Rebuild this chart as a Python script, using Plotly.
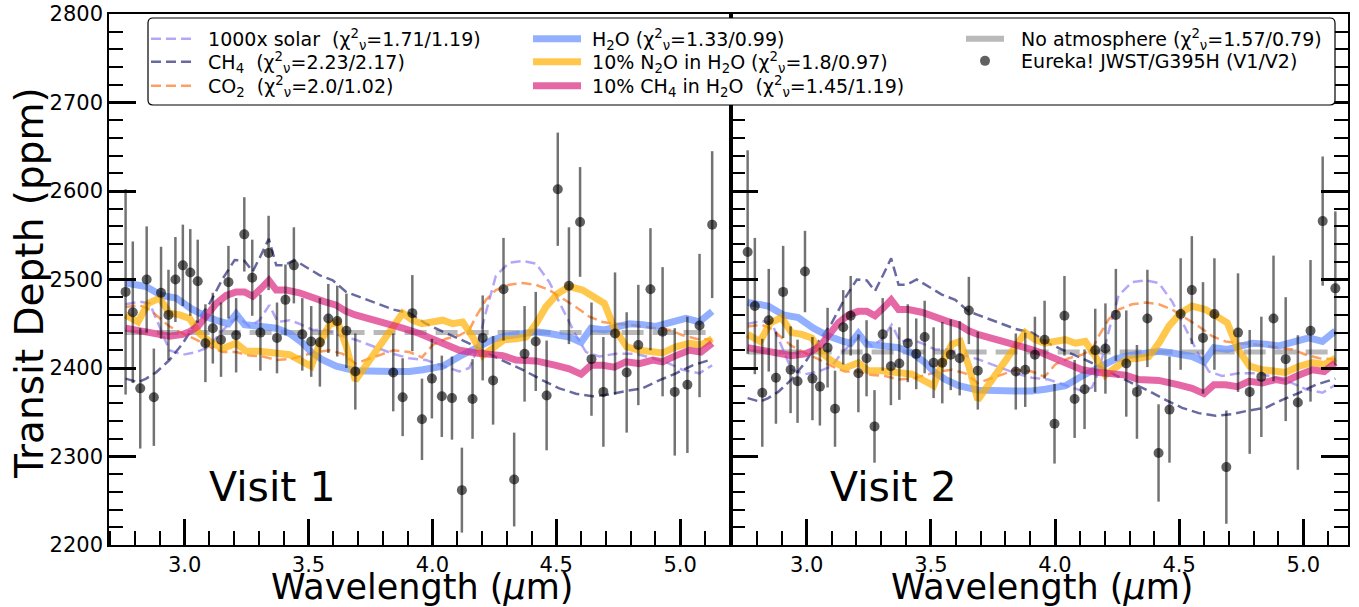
import plotly.graph_objects as go

W, H = 1359, 607
FONT = "DejaVu Sans"

# ---------------- data: binned NIRSpec G395H transit depths ----------------
WAVELENGTH = [2.762, 2.791, 2.821, 2.847, 2.876, 2.905, 2.935, 2.963, 2.993, 3.023,
              3.053, 3.084, 3.114, 3.147, 3.177, 3.208, 3.241, 3.273, 3.306, 3.339,
              3.373, 3.407, 3.441, 3.475, 3.511, 3.546, 3.580, 3.616, 3.653, 3.689,
              3.842, 3.880, 3.919, 3.958, 3.998, 4.038, 4.079, 4.119, 4.162, 4.203,
              4.245, 4.287, 4.330, 4.372, 4.417, 4.461, 4.506, 4.551, 4.596, 4.642,
              4.690, 4.737, 4.784, 4.831, 4.880, 4.929, 4.978, 5.029, 5.078, 5.129]

V1_DEPTH = [2486, 2463, 2377, 2500, 2367, 2485, 2460, 2500, 2516, 2508,
            2498, 2428, 2445, 2432, 2497, 2437, 2551, 2502, 2440, 2530,
            2434, 2477, 2516, 2438, 2430, 2429, 2456, 2453, 2442, 2396,
            2395, 2367, 2462, 2342, 2388, 2368, 2366, 2262, 2365, 2434,
            2386, 2489, 2274, 2416, 2430, 2369, 2602, 2493, 2565, 2410,
            2373, 2439, 2395, 2426, 2489, 2441, 2373, 2381, 2448, 2562]
V1_ERR = [116, 80, 68, 60, 55, 52, 51, 48, 46, 49,
          47, 44, 40, 42, 41, 42, 42, 43, 43, 42,
          40, 40, 43, 41, 40, 50, 39, 40, 42, 43,
          44, 44, 43, 46, 45, 46, 47, 48, 45, 48,
          50, 58, 53, 54, 56, 62, 64, 66, 62, 64,
          62, 69, 68, 68, 69, 73, 72, 77, 81, 83]

V2_DEPTH = [2531, 2470, 2372, 2454, 2389, 2486, 2398, 2385, 2509, 2388,
            2379, 2423, 2354, 2446, 2459, 2394, 2411, 2334, 2438, 2402,
            2405, 2428, 2416, 2435, 2406, 2406, 2415, 2411, 2465, 2397,
            2396, 2398, 2415, 2432, 2337, 2459, 2365, 2376, 2420, 2422,
            2460, 2405, 2373, 2456, 2304, 2353, 2461, 2488, 2434, 2461,
            2288, 2440, 2373, 2390, 2456, 2410, 2361, 2442, 2566, 2490]
V2_ERR = [115, 77, 61, 58, 52, 52, 49, 47, 46, 47,
          44, 45, 43, 42, 45, 44, 43, 41, 41, 44,
          41, 44, 40, 41, 40, 46, 40, 42, 38, 44,
          43, 42, 43, 44, 45, 45, 44, 45, 47, 51,
          52, 60, 53, 55, 55, 60, 63, 61, 63, 63,
          64, 67, 70, 68, 71, 70, 76, 80, 73, 87]

# flat (no atmosphere) fit level per visit; models are shifted with it
NO_ATM_LEVEL = [2440, 2418]

# ---------------- forward models (visit 1 fit) ----------------
WL_SOLAR = [2.762, 2.818, 2.859, 2.899, 2.939, 2.993, 3.047, 3.101, 3.141, 3.181,
            3.215, 3.262, 3.302, 3.342, 3.376, 3.424, 3.463, 3.517, 3.571, 3.625,
            3.689, 3.842, 3.907, 3.974, 4.042, 4.109, 4.149, 4.176, 4.216, 4.256,
            4.310, 4.364, 4.418, 4.472, 4.525, 4.579, 4.620, 4.673, 4.740, 4.821,
            4.889, 4.956, 5.010, 5.077, 5.129]
SOLAR = [2472, 2475, 2473, 2447, 2420, 2415, 2418, 2424, 2439, 2450,
         2458, 2447, 2454, 2471, 2452, 2454, 2450, 2443, 2443, 2437,
         2432, 2416, 2411, 2409, 2402, 2396, 2400, 2418, 2463, 2504,
         2519, 2521, 2518, 2497, 2467, 2437, 2418, 2413, 2416, 2416,
         2411, 2405, 2398, 2394, 2403]

WL_CH4 = [2.762, 2.812, 2.845, 2.885, 2.939, 2.993, 3.047, 3.101, 3.154, 3.202,
          3.242, 3.275, 3.309, 3.340, 3.370, 3.403, 3.443, 3.490, 3.544, 3.598,
          3.652, 3.689, 3.842, 3.907, 3.974, 4.042, 4.109, 4.176, 4.243, 4.310,
          4.378, 4.445, 4.512, 4.579, 4.646, 4.714, 4.781, 4.848, 4.915, 4.983,
          5.050, 5.129]
CH4 = [2388, 2384, 2388, 2395, 2409, 2428, 2452, 2473, 2501, 2522,
       2521, 2509, 2528, 2546, 2516, 2516, 2522, 2514, 2505, 2499,
       2486, 2482, 2466, 2462, 2450, 2441, 2433, 2424, 2414, 2405,
       2396, 2386, 2377, 2371, 2368, 2370, 2374, 2377, 2386, 2394,
       2403, 2410]

WL_CO2 = [2.762, 2.818, 2.859, 2.899, 2.939, 2.993, 3.047, 3.101, 3.154, 3.208,
          3.262, 3.316, 3.370, 3.424, 3.477, 3.531, 3.585, 3.638, 3.689, 3.842,
          3.907, 3.958, 4.001, 4.055, 4.109, 4.149, 4.176, 4.216, 4.256, 4.310,
          4.364, 4.418, 4.472, 4.525, 4.579, 4.633, 4.687, 4.740, 4.794, 4.848,
          4.902, 4.956, 5.010, 5.064, 5.129]
CO2 = [2469, 2471, 2466, 2456, 2447, 2439, 2432, 2424, 2418, 2418,
       2414, 2413, 2409, 2410, 2414, 2418, 2420, 2416, 2405, 2420,
       2418, 2412, 2426, 2433, 2437, 2443, 2458, 2477, 2488, 2494,
       2496, 2494, 2488, 2479, 2469, 2458, 2452, 2450, 2449, 2447,
       2445, 2443, 2437, 2433, 2432]

WL_H2O = [2.762, 2.845, 2.906, 2.966, 3.027, 3.087, 3.148, 3.177, 3.208, 3.242,
          3.309, 3.370, 3.424, 3.477, 3.511, 3.558, 3.612, 3.665, 3.689, 3.842,
          3.907, 3.961, 4.042, 4.109, 4.176, 4.243, 4.297, 4.418, 4.472, 4.552,
          4.600, 4.640, 4.694, 4.741, 4.795, 4.848, 4.902, 4.969, 5.023, 5.077,
          5.129]
H2O = [2496, 2492, 2482, 2479, 2467, 2458, 2452, 2450, 2461, 2449,
       2447, 2445, 2439, 2428, 2418, 2409, 2402, 2398, 2397, 2396,
       2396, 2398, 2402, 2413, 2422, 2432, 2436, 2441, 2439, 2435,
       2429, 2445, 2443, 2446, 2450, 2449, 2447, 2452, 2456, 2452,
       2464]

WL_N2O = [2.762, 2.812, 2.853, 2.899, 2.939, 2.980, 3.020, 3.060, 3.101, 3.154,
          3.208, 3.248, 3.302, 3.370, 3.424, 3.477, 3.511, 3.546, 3.585, 3.618,
          3.653, 3.689, 3.842, 3.880, 3.920, 3.958, 4.042, 4.082, 4.122, 4.163,
          4.203, 4.246, 4.290, 4.337, 4.378, 4.418, 4.458, 4.505, 4.552, 4.606,
          4.646, 4.694, 4.737, 4.784, 4.835, 4.889, 4.929, 4.983, 5.037, 5.084,
          5.129]
N2O = [2460, 2452, 2473, 2479, 2462, 2460, 2456, 2439, 2430, 2422,
       2428, 2419, 2419, 2417, 2415, 2407, 2402, 2428, 2449, 2452,
       2424, 2386, 2446, 2462, 2454, 2450, 2454, 2450, 2452, 2435,
       2414, 2422, 2432, 2433, 2435, 2450, 2469, 2484, 2492, 2488,
       2482, 2473, 2443, 2424, 2420, 2418, 2417, 2424, 2428, 2426,
       2433]

WL_CH4_H2O = [2.762, 2.845, 2.906, 2.939, 2.993, 3.020, 3.054, 3.087, 3.128, 3.168,
              3.208, 3.242, 3.275, 3.309, 3.340, 3.370, 3.410, 3.463, 3.517, 3.564,
              3.612, 3.652, 3.689, 3.842, 3.880, 3.948, 4.042, 4.109, 4.176, 4.243,
              4.284, 4.337, 4.418, 4.498, 4.552, 4.600, 4.640, 4.687, 4.734, 4.781,
              4.835, 4.889, 4.929, 4.983, 5.037, 5.084, 5.129]
CH4_H2O = [2445, 2441, 2439, 2436, 2438, 2441, 2447, 2458, 2473, 2482,
           2486, 2486, 2481, 2490, 2499, 2488, 2488, 2485, 2479, 2475,
           2471, 2464, 2460, 2449, 2445, 2439, 2428, 2420, 2417, 2416,
           2414, 2409, 2408, 2403, 2399, 2393, 2403, 2403, 2401, 2407,
           2405, 2409, 2407, 2414, 2420, 2418, 2428]

CHI = "χ<sup>2</sup><sub>ν</sub>"
NB = "\u00a0"
LABELS = {
    "solar": f"1000x solar{NB}{NB}({CHI}=1.71/1.19)",
    "ch4": f"CH<sub>4</sub>{NB}{NB}({CHI}=2.23/2.17)",
    "co2": f"CO<sub>2</sub>{NB}{NB}({CHI}=2.0/1.02)",
    "h2o": f"H<sub>2</sub>O ({CHI}=1.33/0.99)",
    "n2o": f"10% N<sub>2</sub>O in H<sub>2</sub>O ({CHI}=1.8/0.97)",
    "ch4h2o": f"10% CH<sub>4</sub> in H<sub>2</sub>O{NB}{NB}({CHI}=1.45/1.19)",
    "flat": f"No atmosphere ({CHI}=1.57/0.79)",
    "data": "Eureka! JWST/G395H (V1/V2)",
}

# ---------------- styling ----------------
DASHED = [
    ("solar", WL_SOLAR, SOLAR, "rgba(120,94,240,0.55)"),
    ("ch4", WL_CH4, CH4, "rgba(25,25,112,0.65)"),
    ("co2", WL_CO2, CO2, "rgba(254,97,0,0.6)"),
]
SOLID = [
    ("h2o", WL_H2O, H2O, "rgba(100,143,255,0.7)"),
    ("n2o", WL_N2O, N2O, "rgba(255,176,0,0.7)"),
    ("ch4h2o", WL_CH4_H2O, CH4_H2O, "rgba(220,38,127,0.7)"),
]
GRAY = "rgba(128,128,128,0.55)"
DATA_COLOR = "rgba(0,0,0,0.62)"

# legend rows: key -> (legend id, symbol left px, symbol width px, row centre px)
LEGEND_SLOTS = {
    "solar": ("legend", 151, 40, 39),
    "ch4": ("legend2", 151, 40, 62),
    "co2": ("legend3", 151, 40, 86),
    "h2o": ("legend4", 533, 48, 39),
    "n2o": ("legend5", 533, 48, 62),
    "ch4h2o": ("legend6", 533, 48, 86),
    "flat": ("legend7", 966, 38, 39),
    "data": ("legend8", 966, 38, 61),
}


def px_x(x):
    return x / W


def px_y(y):
    return 1 - y / H


fig = go.Figure()

visits = [(V1_DEPTH, V1_ERR), (V2_DEPTH, V2_ERR)]
for i, (depth, err) in enumerate(visits):
    xa = "x" if i == 0 else "x2"
    ya = "y" if i == 0 else "y2"
    shift = NO_ATM_LEVEL[i] - NO_ATM_LEVEL[0]
    first = i == 0

    # flat model across the full band
    fig.add_trace(go.Scatter(
        x=[WAVELENGTH[0], WAVELENGTH[-1]], y=[NO_ATM_LEVEL[i]] * 2,
        mode="lines", line=dict(color=GRAY, width=5, dash="22px,9px"),
        xaxis=xa, yaxis=ya, showlegend=False, hoverinfo="skip"))

    for key, wl, vals, col in DASHED:
        fig.add_trace(go.Scatter(
            x=wl, y=[v + shift for v in vals], mode="lines",
            line=dict(color=col, width=2.5, dash="10px,5px"),
            name=NB + NB + LABELS[key], legend=LEGEND_SLOTS[key][0],
            showlegend=first, xaxis=xa, yaxis=ya))

    for key, wl, vals, col in SOLID:
        fig.add_trace(go.Scatter(
            x=wl, y=[v + shift for v in vals], mode="lines",
            line=dict(color=col, width=7),
            name=NB + LABELS[key], legend=LEGEND_SLOTS[key][0],
            showlegend=first, xaxis=xa, yaxis=ya))

    if first:
        fig.add_trace(go.Scatter(
            x=[None], y=[None], mode="lines",
            line=dict(color=GRAY, width=6),
            name=NB + NB + LABELS["flat"], legend=LEGEND_SLOTS["flat"][0],
            showlegend=True, xaxis=xa, yaxis=ya))

    fig.add_trace(go.Scatter(
        x=WAVELENGTH, y=depth, mode="markers",
        marker=dict(color=DATA_COLOR, size=10),
        error_y=dict(type="data", array=err, visible=True,
                     color="rgba(0,0,0,0.55)", thickness=2.5, width=0),
        name=NB + NB + LABELS["data"], legend=LEGEND_SLOTS["data"][0],
        showlegend=first, xaxis=xa, yaxis=ya))

tickfont = dict(family=FONT, size=21, color="black")
xcommon = dict(
    tickmode="array", tickvals=[3.0, 3.5, 4.0, 4.5, 5.0],
    ticktext=["3.0", "3.5", "4.0", "4.5", "5.0"],
    ticks="inside", ticklen=26, tickwidth=3, tickcolor="black",
    minor=dict(ticks="inside", ticklen=14, tickwidth=2, tickcolor="black",
               tickmode="array",
               tickvals=[2.7, 2.8, 2.9, 3.1, 3.2, 3.3, 3.4, 3.6, 3.7, 3.8, 3.9,
                         4.1, 4.2, 4.3, 4.4, 4.6, 4.7, 4.8, 4.9, 5.1, 5.2]),
    showline=True, linecolor="black", linewidth=1.5, mirror=True,
    showgrid=False, zeroline=False, tickfont=tickfont,
)
ycommon = dict(
    range=[2200, 2800], tickmode="linear", tick0=2200, dtick=100,
    ticks="inside", ticklen=27, tickwidth=3, tickcolor="black",
    minor=dict(ticks="inside", ticklen=14, tickwidth=2, tickcolor="black",
               dtick=20),
    showline=True, linecolor="black", linewidth=1.5,
    showgrid=False, zeroline=False, tickfont=tickfont,
    domain=[px_y(545), px_y(14)],
)

legend_font = dict(family=FONT, size=19, color="black")
legends = {}
for key, (lid, left, iw, row) in LEGEND_SLOTS.items():
    legends[lid] = dict(
        x=px_x(left - 5), y=px_y(row), xanchor="left", yanchor="middle",
        font=legend_font, bgcolor="rgba(0,0,0,0)", borderwidth=0,
        itemwidth=iw, tracegroupgap=0,
    )

# legend frame with softly rounded corners
bx0, bx1, by0, by1, r = 148, 1335, 18, 105, 5
rx, ry = r / W, r / H
X0, X1, Y0, Y1 = px_x(bx0), px_x(bx1), px_y(by1), px_y(by0)
frame_path = (f"M {X0 + rx},{Y1} L {X1 - rx},{Y1} Q {X1},{Y1} {X1},{Y1 - ry} "
              f"L {X1},{Y0 + ry} Q {X1},{Y0} {X1 - rx},{Y0} "
              f"L {X0 + rx},{Y0} Q {X0},{Y0} {X0},{Y0 + ry} "
              f"L {X0},{Y1 - ry} Q {X0},{Y1} {X0 + rx},{Y1} Z")

fig.update_layout(
    width=W, height=H,
    margin=dict(l=0, r=0, t=0, b=0, autoexpand=False),
    paper_bgcolor="white", plot_bgcolor="white",
    font=dict(family=FONT, color="black"),
    xaxis=dict(domain=[px_x(109), px_x(731)], range=[2.695, 5.205],
               anchor="y", **xcommon),
    xaxis2=dict(domain=[px_x(731), px_x(1348)], range=[2.695, 5.18],
                anchor="y2", **xcommon),
    yaxis=dict(anchor="x", mirror=True, **ycommon),
    yaxis2=dict(anchor="x2", mirror="ticks", showticklabels=False,
                matches="y", **ycommon),
    shapes=[dict(type="path", path=frame_path, xref="paper", yref="paper",
                 line=dict(color="black", width=1.2), fillcolor="white",
                 layer="above")],
    annotations=[
        dict(text="Transit Depth (ppm)", xref="paper", yref="paper",
             x=px_x(29), y=px_y(283), textangle=-90, showarrow=False,
             font=dict(family=FONT, size=39), xanchor="center", yanchor="middle"),
        dict(text="Wavelength (<i>µ</i>m)", xref="paper", yref="paper",
             x=px_x(422), y=px_y(587), showarrow=False,
             font=dict(family=FONT, size=35), xanchor="center", yanchor="middle"),
        dict(text="Wavelength (<i>µ</i>m)", xref="paper", yref="paper",
             x=px_x(1042), y=px_y(587), showarrow=False,
             font=dict(family=FONT, size=35), xanchor="center", yanchor="middle"),
        dict(text="Visit 1", xref="paper", yref="paper",
             x=px_x(272), y=px_y(487), showarrow=False,
             font=dict(family=FONT, size=41), xanchor="center", yanchor="middle"),
        dict(text="Visit 2", xref="paper", yref="paper",
             x=px_x(893), y=px_y(487), showarrow=False,
             font=dict(family=FONT, size=41), xanchor="center", yanchor="middle"),
    ],
    **legends,
)

fig.write_html("out.html")
